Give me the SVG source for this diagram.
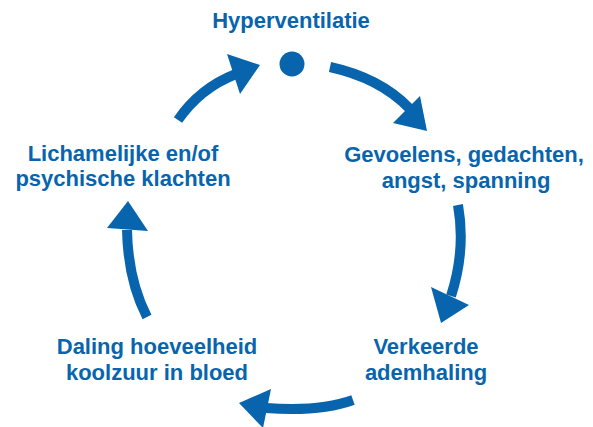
<svg xmlns="http://www.w3.org/2000/svg" width="593" height="427" viewBox="0 0 593 427">
<style>
.t{font-family:"Liberation Sans",Arial,sans-serif;font-weight:bold;font-size:22px;fill:#0865ad;text-anchor:middle}
.s{fill:none;stroke:#0865ad;stroke-width:10}
.h{fill:#0865ad}
</style>
<rect width="593" height="427" fill="#fff"/>
<g id="n1"><text class="t" x="291" y="28">Hyperventilatie</text><circle cx="292" cy="64" r="12.5" fill="#0865ad"/></g>
<g id="n2"><text class="t" x="464" y="162">Gevoelens, gedachten,</text><text class="t" x="466" y="188">angst, spanning</text></g>
<g id="n3"><text class="t" x="426" y="354">Verkeerde</text><text class="t" x="426" y="380">ademhaling</text></g>
<g id="n4"><text class="t" x="157" y="354">Daling hoeveelheid</text><text class="t" x="157" y="380">koolzuur in bloed</text></g>
<g id="n5"><text class="t" x="123" y="161">Lichamelijke en/of</text><text class="t" x="123" y="186">psychische klachten</text></g>
<g id="connectors">
<path class="s" d="M178,120 Q200,88 236,74"/>
<polygon class="h" points="227,54 260,65 240,94"/>
<path class="s" d="M330,67 Q380,78 409,108"/>
<polygon class="h" points="420,96 427,131 393,123"/>
<path class="s" d="M458,205 Q466,250 451,296"/>
<polygon class="h" points="431,287 469,305 441,323"/>
<path class="s" d="M353,400 Q320,412 266,408"/>
<polygon class="h" points="271,389 239,403 263,428"/>
<path class="s" d="M147,317 Q128,280 127,230"/>
<polygon class="h" points="107,228 128,201 148,231"/>
</g>
</svg>
